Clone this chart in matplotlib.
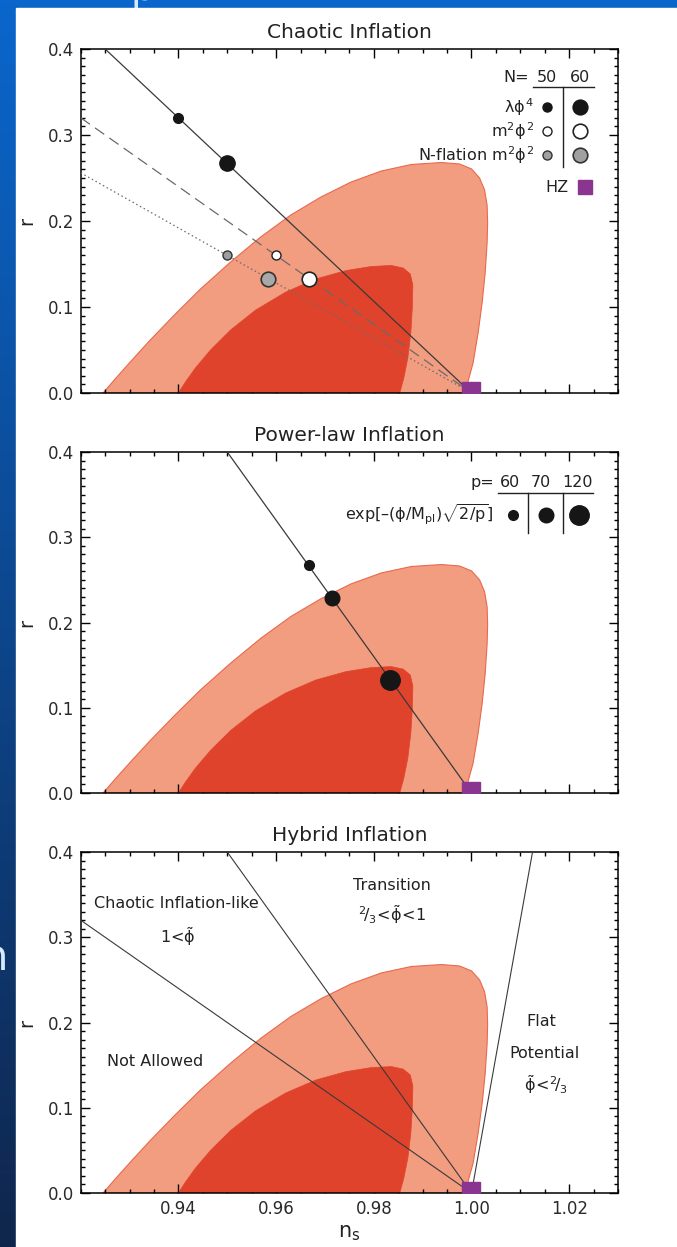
import numpy as np
import matplotlib
matplotlib.use("Agg")
import matplotlib.pyplot as plt
from matplotlib.patches import Polygon, Rectangle
from matplotlib.ticker import MultipleLocator, FormatStrFormatter

plt.rcParams['font.family'] = ['DejaVu Sans']
plt.rcParams['mathtext.fontset'] = 'custom'
plt.rcParams['mathtext.rm'] = 'DejaVu Sans'
plt.rcParams['mathtext.it'] = 'DejaVu Sans'
plt.rcParams['mathtext.bf'] = 'DejaVu Sans:bold'

# ---------------------------------------------------------------- data
# 95% and 68% confidence regions in the (n_s, r) plane
OUTER_NS = [0.92458, 0.92705, 0.93013, 0.93424, 0.93938, 0.94452, 0.95069,
            0.95685, 0.96302, 0.96919, 0.97535, 0.98152, 0.98769, 0.99385,
            0.99755, 1.00002, 1.00166, 1.00269, 1.00320, 1.00331, 1.00320,
            1.00280, 1.00218, 1.00136, 1.00033, 0.99910, 0.99811]
OUTER_R = [0.0000, 0.0163, 0.0360, 0.0616, 0.0919, 0.1209, 0.1523,
           0.1814, 0.2070, 0.2279, 0.2453, 0.2581, 0.2657, 0.2680,
           0.2663, 0.2605, 0.2500, 0.2360, 0.2186, 0.1977, 0.1744,
           0.1395, 0.1047, 0.0698, 0.0349, 0.0093, 0.0000]
INNER_NS = [0.94000, 0.94144, 0.94349, 0.94658, 0.95069, 0.95583, 0.96199,
            0.96816, 0.97433, 0.97947, 0.98358, 0.98604, 0.98748, 0.98800,
            0.98789, 0.98758, 0.98697, 0.98615, 0.98532]
INNER_R = [0.0000, 0.0128, 0.0291, 0.0500, 0.0733, 0.0965, 0.1174,
           0.1326, 0.1424, 0.1471, 0.1483, 0.1453, 0.1384, 0.1256,
           0.0988, 0.0698, 0.0407, 0.0174, 0.0000]

# Chaotic inflation predictions, N = 50 and 60 e-folds
N_EFOLDS = ["50", "60"]
PHI4_NS = [0.940, 0.950]
PHI4_R = [0.320, 0.267]
M2PHI2_NS = [0.960, 0.9667]
M2PHI2_R = [0.160, 0.133]
NFLAT_NS = [0.950, 0.9583]
NFLAT_R = [0.160, 0.133]

# Power-law inflation, p = 60, 70, 120
P_VALUES = ["60", "70", "120"]
PL_NS = [0.9667, 0.9714, 0.9833]
PL_R = [0.267, 0.229, 0.133]

# Harrison-Zel'dovich point
HZ_NS = 1.0
HZ_R = 0.0025

# Trajectory lines (n_s endpoints, r endpoints)
PHI4_LINE_NS = [0.925, 1.0]
PHI4_LINE_R = [0.400, 0.0]
M2_LINE_NS = [0.920, 1.0]
M2_LINE_R = [0.320, 0.0]
NFLAT_LINE_NS = [0.920, 1.0]
NFLAT_LINE_R = [0.256, 0.0]
PL_LINE_NS = [0.950, 1.0]
PL_LINE_R = [0.400, 0.0]
FLAT_LINE_NS = [1.0, 1.0125]
FLAT_LINE_R = [0.0, 0.400]

XTICKS = [0.94, 0.96, 0.98, 1.00, 1.02]
YTICKS = [0.0, 0.1, 0.2, 0.3, 0.4]

# ---------------------------------------------------------------- style
OUTER_C = '#F29C80'
OUTER_EDGE = '#E8694C'
INNER_C = '#E0432B'
HZ_C = '#8A3590'
LINE_C = '#3A3A3A'
TXT_C = '#222222'

W, H = 677, 1247
fig = plt.figure(figsize=(W / 100, H / 100), dpi=100)

# slide backdrop: blue gradient with white page on top
bg = fig.add_axes([0, 0, 1, 1], zorder=-10)
grad = np.linspace(0, 1, 256)[:, None]
top = np.array([0.04, 0.40, 0.80])
bot = np.array([0.06, 0.15, 0.30])
img = (1 - grad)[..., None] * top + grad[..., None] * bot
img = np.repeat(img, 2, axis=1)
bg.imshow(img, extent=[0, W, H, 0], aspect='auto')
bg.add_patch(Rectangle((16, 8), W - 16, H - 8, color='white', zorder=2))
bg.text(8, 970, "n", fontsize=30, color='#D6EBFF', ha='right', va='baseline',
        zorder=1)
bg.text(131, 0, "p", fontsize=28, color='#D6EBFF', ha='left', va='baseline',
        zorder=1)
bg.set_xlim(0, W)
bg.set_ylim(H, 0)
bg.axis('off')

LEFT, RIGHT = 80.7, 618.0
PANELS = [(49, 393), (452, 793), (852, 1193)]
TITLES = ["Chaotic Inflation", "Power-law Inflation", "Hybrid Inflation"]


def make_axes(top_px, bot_px):
    return fig.add_axes([LEFT / W, 1 - bot_px / H, (RIGHT - LEFT) / W,
                         (bot_px - top_px) / H])


def style(ax, title, show_x):
    ax.set_xlim(0.92, 1.03)
    ax.set_ylim(0.0, 0.4)
    ax.xaxis.set_minor_locator(MultipleLocator(0.005))
    ax.yaxis.set_minor_locator(MultipleLocator(0.01))
    ax.set_xticks(XTICKS)
    ax.set_yticks(YTICKS)
    ax.yaxis.set_major_formatter(FormatStrFormatter('%.1f'))
    ax.xaxis.set_major_formatter(FormatStrFormatter('%.2f'))
    ax.tick_params(which='both', direction='in', top=True, right=True,
                   width=1.0, colors='black', labelcolor='#2A2A2A',
                   labelsize=12)
    ax.tick_params(which='major', length=6.5, pad=5)
    ax.tick_params(which='minor', length=3.0)
    if not show_x:
        ax.tick_params(axis='x', labelbottom=False)
    for s in ax.spines.values():
        s.set_linewidth(1.1)
    ax.set_ylabel("r", fontsize=14, labelpad=8, color=TXT_C)
    ax.set_title(title, fontsize=14.5, pad=8, color=TXT_C)


def contours(ax):
    ax.add_patch(Polygon(np.column_stack([OUTER_NS, OUTER_R]), closed=True,
                         facecolor=OUTER_C, edgecolor=OUTER_EDGE, lw=0.8,
                         joinstyle='round', zorder=1))
    ax.add_patch(Polygon(np.column_stack([INNER_NS, INNER_R]), closed=True,
                         facecolor=INNER_C, edgecolor=INNER_C, lw=0.5,
                         joinstyle='round', zorder=2))


def hz(ax):
    ax.plot([HZ_NS], [HZ_R], marker='s', ms=13, color=HZ_C, mec=HZ_C,
            ls='none', zorder=6, clip_on=True)


axes = [make_axes(*p) for p in PANELS]
for i, ax in enumerate(axes):
    style(ax, TITLES[i], i == 2)
    contours(ax)
    hz(ax)


def fx(px):
    return (px - LEFT) / (RIGHT - LEFT)


def fy(py, top_px, bot_px):
    return (bot_px - py) / (bot_px - top_px)


# ---------------------------------------------------------------- panel 1
ax = axes[0]
ax.plot(PHI4_LINE_NS, PHI4_LINE_R, color=LINE_C, lw=0.9, zorder=3)
ax.plot(M2_LINE_NS, M2_LINE_R, color='#6A6A6A', lw=0.9, ls=(0, (9, 5)),
        zorder=3)
ax.plot(NFLAT_LINE_NS, NFLAT_LINE_R, color='#6A6A6A', lw=0.9,
        ls=(0, (1.2, 2.2)), zorder=3)
small, large = 7.0, 11.0
ax.plot(PHI4_NS[0], PHI4_R[0], 'o', ms=small, color='#161616', zorder=5)
ax.plot(PHI4_NS[1], PHI4_R[1], 'o', ms=large, color='#161616', zorder=5)
ax.plot(M2PHI2_NS[0], M2PHI2_R[0], 'o', ms=small - 0.5, mfc='white',
        mec='#222222', mew=1.0, zorder=5)
ax.plot(M2PHI2_NS[1], M2PHI2_R[1], 'o', ms=large - 0.5, mfc='white',
        mec='#222222', mew=1.2, zorder=5)
ax.plot(NFLAT_NS[0], NFLAT_R[0], 'o', ms=small - 0.5, mfc='#9E9E9E',
        mec='#333333', mew=1.0, zorder=5)
ax.plot(NFLAT_NS[1], NFLAT_R[1], 'o', ms=large - 0.5, mfc='#A8A8A8',
        mec='#333333', mew=1.2, zorder=5)

T = ax.transAxes
def fy1(py):
    return fy(py, 49, 393)

leg = dict(transform=T, va='center', fontsize=11.5, color=TXT_C)
ax.text(fx(529), fy1(77), "N=", ha='right', **leg)
ax.text(fx(547), fy1(77), N_EFOLDS[0], ha='center', **leg)
ax.text(fx(580), fy1(77), N_EFOLDS[1], ha='center', **leg)
ax.plot([fx(533), fx(594)], [fy1(87), fy1(87)], transform=T, color=TXT_C,
        lw=1.0)
ax.plot([fx(563), fx(563)], [fy1(87), fy1(167)], transform=T, color=TXT_C,
        lw=1.0)
rows = [(107, r"λ$\phi^4$", dict(mfc='#161616', mec='#161616')),
        (131, r"m$^2\phi^2$", dict(mfc='white', mec='#222222')),
        (155, r"N-flation m$^2\phi^2$", dict(mfc='#A0A0A0', mec='#333333'))]
for py, label, kw in rows:
    ax.text(fx(534), fy1(py), label, ha='right', **leg)
    ax.plot(fx(547), fy1(py), 'o', ms=small - 0.5, transform=T, mew=1.0,
            zorder=5, **kw)
    ax.plot(fx(580), fy1(py), 'o', ms=large - 0.5, transform=T, mew=1.2,
            zorder=5, **kw)
ax.text(fx(569), fy1(187), "HZ", ha='right', **leg)
ax.plot(fx(585), fy1(187), 's', ms=10, color=HZ_C, transform=T)

# ---------------------------------------------------------------- panel 2
ax = axes[1]
ax.plot(PL_LINE_NS, PL_LINE_R, color=LINE_C, lw=0.9, zorder=3)
pl_sizes = [7.0, 10.5, 14.0]
for ns, r, s in zip(PL_NS, PL_R, pl_sizes):
    ax.plot(ns, r, 'o', ms=s, color='#161616', zorder=5)

T = ax.transAxes
def fy2(py):
    return fy(py, 452, 793)

leg = dict(transform=T, va='center', fontsize=11.5, color=TXT_C)
ax.text(fx(494), fy2(483), "p=", ha='right', **leg)
for px, lab in zip([510, 541, 578], P_VALUES):
    ax.text(fx(px), fy2(483), lab, ha='center', **leg)
ax.plot([fx(498), fx(593)], [fy2(493), fy2(493)], transform=T,
        color=TXT_C, lw=1.0)
for px in [528, 563]:
    ax.plot([fx(px), fx(px)], [fy2(493), fy2(533)], transform=T,
            color=TXT_C, lw=1.0)
ax.text(fx(494), fy2(515), r"exp[–($\phi$/M$_{\rm pl}$)$\sqrt{\rm 2/p}$]",
        ha='right', **leg)
for px, s in zip([513, 546, 579], pl_sizes):
    ax.plot(fx(px), fy2(515), 'o', ms=s, color='#161616', transform=T)

# ---------------------------------------------------------------- panel 3
ax = axes[2]
ax.plot(M2_LINE_NS, M2_LINE_R, color=LINE_C, lw=0.8, zorder=3)
ax.plot(PL_LINE_NS, PL_LINE_R, color=LINE_C, lw=0.8, zorder=3)
ax.plot(FLAT_LINE_NS, FLAT_LINE_R, color=LINE_C, lw=0.8, zorder=3)
T = ax.transAxes
def fy3(py):
    return fy(py, 852, 1193)

txt = dict(transform=T, ha='center', va='center', fontsize=11.5,
           color=TXT_C, zorder=7)
ax.text(fx(176), fy3(903), "Chaotic Inflation-like", **txt)
ax.text(fx(178), fy3(937), r"1<$\tilde{\phi}$", **txt)
ax.text(fx(392), fy3(885), "Transition", **txt)
ax.text(fx(392), fy3(915), r"$^2\!/_3\!<\!\tilde{\phi}\!<\!1$", **txt)
ax.text(fx(155), fy3(1062), "Not Allowed", **txt)
ax.text(fx(541), fy3(1022), "Flat", **txt)
ax.text(fx(545), fy3(1054), "Potential", **txt)
ax.text(fx(546), fy3(1085), r"$\tilde{\phi}\!<\!^2\!/_3$", **txt)
ax.set_xlabel("n$_{\\rm s}$", fontsize=15, labelpad=4, color=TXT_C)

fig.savefig("out.png", dpi=100)
